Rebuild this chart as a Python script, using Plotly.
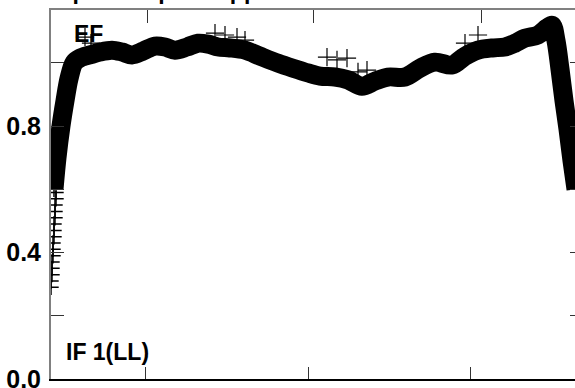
import plotly.graph_objects as go

# channel (x) and amplitude (y) along the band centre
chan = [3, 6, 10, 14, 18, 23, 29, 39, 49, 61, 71, 81, 92, 104, 114, 124, 136, 147, 157,
        167, 179, 194, 209, 227, 242, 257, 269, 284, 297, 311, 324, 337, 354, 369, 384,
        401, 414, 427, 441, 454, 464, 474, 487, 496, 501, 505, 509, 513, 517, 521, 525]
amp = [0.60, 0.70, 0.80, 0.88, 0.95, 1.000, 1.015, 1.025, 1.034, 1.040, 1.034, 1.025,
       1.037, 1.053, 1.050, 1.040, 1.050, 1.062, 1.059, 1.050, 1.047, 1.040, 1.021, 0.999,
       0.983, 0.968, 0.958, 0.955, 0.946, 0.926, 0.942, 0.955, 0.955, 0.983, 1.002, 0.993,
       1.021, 1.040, 1.047, 1.050, 1.062, 1.078, 1.088, 1.110, 1.119, 1.070, 0.980, 0.880,
       0.790, 0.690, 0.600]

# low-edge channels (stacked points at the band start)
edge_chan = [0, 0, 1, 1, 1, 2, 2, 2, 3, 3, 3, 4, 4, 4, 5, 5]
edge_amp = [0.29, 0.31, 0.33, 0.35, 0.37, 0.39, 0.41, 0.43, 0.45, 0.47, 0.49, 0.51,
            0.53, 0.55, 0.57, 0.59]

# outlying points above the band
out_chan = [34, 40, 164, 174, 186, 194, 276, 286, 296, 307, 316, 414, 427]
out_amp = [1.081, 1.062, 1.094, 1.088, 1.081, 1.072, 1.018, 1.009, 1.015, 0.971, 0.977,
           1.062, 1.088]

y_ticks = [0.0, 0.2, 0.4, 0.6, 0.8, 1.0]
y_tick_text = ["0.0", "", "0.4", "", "0.8", ""]
x_ticks_bottom = [94, 257, 419]
x_ticks_top = [96, 262, 430]

FONT = "Liberation Sans, Arial, sans-serif"
X_RANGE = [0, 531]
Y_RANGE = [0, 1.167]

fig = go.Figure()
fig.add_trace(go.Scatter(
    x=chan, y=amp, mode="lines+markers",
    line=dict(color="black", width=19, shape="spline", smoothing=0.9),
    marker=dict(symbol="cross-thin", size=11, line=dict(color="black", width=1.5)),
    showlegend=False, hoverinfo="skip"))
fig.add_trace(go.Scatter(
    x=edge_chan, y=edge_amp, mode="markers",
    marker=dict(symbol="cross-thin", size=11, line=dict(color="black", width=1.5)),
    showlegend=False, hoverinfo="skip"))
fig.add_trace(go.Scatter(
    x=out_chan, y=out_amp, mode="markers",
    marker=dict(symbol="cross-thin", size=13, line=dict(color="black", width=1.2)),
    showlegend=False, hoverinfo="skip"))
# helper trace so the mirrored axes are drawn
fig.add_trace(go.Scatter(x=[None], y=[None], xaxis="x2", yaxis="y2",
                         showlegend=False, hoverinfo="skip"))

fig.update_layout(
    width=582, height=394,
    margin=dict(l=51, r=0, t=10, b=15),
    paper_bgcolor="white", plot_bgcolor="white",
    font=dict(family=FONT, color="black"),
    xaxis=dict(range=X_RANGE, showgrid=False, zeroline=False,
               showline=True, linecolor="black", linewidth=1.5,
               ticks="inside", ticklen=12, tickwidth=1, tickcolor="#333",
               tickvals=x_ticks_bottom, showticklabels=False),
    xaxis2=dict(range=X_RANGE, overlaying="x", side="top", showgrid=False,
                zeroline=False, showline=True, linecolor="#808080", linewidth=2,
                ticks="inside", ticklen=13, tickwidth=1, tickcolor="#333",
                tickvals=x_ticks_top, showticklabels=False),
    yaxis=dict(range=Y_RANGE, showgrid=False, zeroline=False,
               showline=True, linecolor="#808080", linewidth=2,
               ticks="inside", ticklen=13, tickwidth=1, tickcolor="#333",
               tickvals=y_ticks, ticktext=y_tick_text, ticklabelstandoff=3,
               tickfont=dict(family=FONT, size=25, color="black", weight="bold")),
    yaxis2=dict(range=Y_RANGE, overlaying="y", side="right", showgrid=False,
                zeroline=False, showline=False, ticks="inside", ticklen=12,
                tickwidth=1, tickcolor="#333", tickvals=y_ticks,
                showticklabels=False),
    annotations=[
        dict(text="<b>EF</b>", xref="paper", yref="paper", x=0.04, y=0.975,
             xanchor="left", yanchor="top", showarrow=False,
             font=dict(family=FONT, size=23, color="black")),
        dict(text="<b>IF 1(LL)</b>", xref="paper", yref="paper", x=0.025, y=0.033,
             xanchor="left", yanchor="bottom", showarrow=False,
             font=dict(family=FONT, size=23, color="black")),
        dict(text="<b>Bandpass and phase space applied</b>", xref="paper",
             yref="paper", x=0.469, y=1.0, yshift=4, xanchor="right",
             yanchor="bottom", showarrow=False,
             font=dict(family=FONT, size=23, color="black")),
    ],
)

fig.write_html("out.html", config={"displayModeBar": False},
               post_script="document.body.style.margin='0';"
               "document.body.style.overflow='hidden';")
